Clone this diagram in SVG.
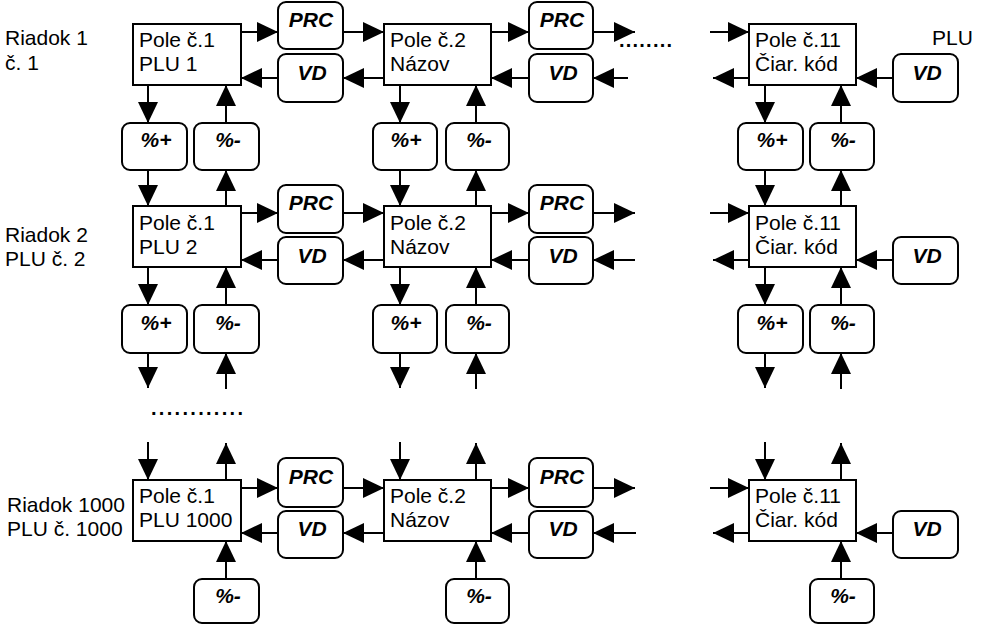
<svg xmlns="http://www.w3.org/2000/svg" width="981" height="625" viewBox="0 0 981 625">
<defs>
<style>
.box{fill:#fff;stroke:#000;stroke-width:2}
.key{fill:#fff;stroke:#000;stroke-width:2}
.t{font-family:"Liberation Sans",Arial,sans-serif;font-size:21px;fill:#000}
.k{font-family:"Liberation Sans",Arial,sans-serif;font-size:21px;font-weight:bold;font-style:italic;fill:#000;text-anchor:middle}
.dots{font-family:"Liberation Sans",Arial,sans-serif;font-size:20px;font-weight:bold;fill:#000}
.c line{stroke:#000;stroke-width:2;marker-end:url(#ah)}
</style>
<marker id="ah" markerWidth="21" markerHeight="20" refX="21" refY="10" orient="auto" markerUnits="userSpaceOnUse">
<path d="M0,0 L21,10 L0,20 z" fill="#000"/>
</marker>
</defs>
<rect width="981" height="625" fill="#fff"/>

<g id="labels">
<text class="t" x="5" y="45">Riadok 1</text>
<text class="t" x="5" y="70">č. 1</text>
<text class="t" x="5" y="242">Riadok 2</text>
<text class="t" x="5" y="266">PLU č. 2</text>
<text class="t" x="7" y="512">Riadok 1000</text>
<text class="t" x="7" y="536">PLU č. 1000</text>
<text class="t" x="932" y="45">PLU</text>
<text class="dots" x="619" y="47" textLength="53" lengthAdjust="spacing">........</text>
<text class="dots" x="151" y="415" textLength="92" lengthAdjust="spacing">............</text>
</g>

<g id="connectors" class="c">
<!-- row 1 horizontal -->
<line x1="241" y1="32" x2="278" y2="32"/>
<line x1="343" y1="32" x2="384" y2="32"/>
<line x1="491" y1="32" x2="529" y2="32"/>
<line x1="593" y1="32" x2="635" y2="32"/>
<line x1="710" y1="32" x2="749" y2="32"/>
<line x1="278" y1="78" x2="241" y2="78"/>
<line x1="384" y1="78" x2="343" y2="78"/>
<line x1="529" y1="78" x2="491" y2="78"/>
<line x1="628" y1="78" x2="593" y2="78"/>
<line x1="749" y1="78" x2="713" y2="78"/>
<line x1="893" y1="78" x2="856" y2="78"/>
<!-- row 2 horizontal -->
<line x1="241" y1="213" x2="278" y2="213"/>
<line x1="343" y1="213" x2="384" y2="213"/>
<line x1="491" y1="213" x2="529" y2="213"/>
<line x1="593" y1="213" x2="635" y2="213"/>
<line x1="710" y1="213" x2="749" y2="213"/>
<line x1="278" y1="260" x2="241" y2="260"/>
<line x1="384" y1="260" x2="343" y2="260"/>
<line x1="529" y1="260" x2="491" y2="260"/>
<line x1="635" y1="260" x2="593" y2="260"/>
<line x1="749" y1="260" x2="713" y2="260"/>
<line x1="893" y1="260" x2="856" y2="260"/>
<!-- row 3 horizontal -->
<line x1="241" y1="488" x2="278" y2="488"/>
<line x1="343" y1="488" x2="384" y2="488"/>
<line x1="491" y1="488" x2="529" y2="488"/>
<line x1="593" y1="488" x2="635" y2="488"/>
<line x1="710" y1="488" x2="749" y2="488"/>
<line x1="278" y1="533" x2="241" y2="533"/>
<line x1="384" y1="533" x2="343" y2="533"/>
<line x1="529" y1="533" x2="491" y2="533"/>
<line x1="636" y1="533" x2="593" y2="533"/>
<line x1="749" y1="533" x2="713" y2="533"/>
<line x1="893" y1="533" x2="856" y2="533"/>
<!-- verticals col 1 -->
<line x1="148" y1="85" x2="148" y2="123"/>
<line x1="226" y1="123" x2="226" y2="85"/>
<line x1="148" y1="170" x2="148" y2="206"/>
<line x1="226" y1="206" x2="226" y2="170"/>
<line x1="148" y1="267" x2="148" y2="305"/>
<line x1="226" y1="305" x2="226" y2="267"/>
<line x1="148" y1="353" x2="148" y2="388"/>
<line x1="226" y1="389" x2="226" y2="353"/>
<line x1="148" y1="442" x2="148" y2="480"/>
<line x1="226" y1="480" x2="226" y2="443"/>
<line x1="226" y1="579" x2="226" y2="541"/>
<!-- verticals col 2 -->
<line x1="400" y1="85" x2="400" y2="123"/>
<line x1="476" y1="123" x2="476" y2="85"/>
<line x1="400" y1="170" x2="400" y2="206"/>
<line x1="476" y1="206" x2="476" y2="170"/>
<line x1="400" y1="267" x2="400" y2="305"/>
<line x1="476" y1="305" x2="476" y2="267"/>
<line x1="400" y1="353" x2="400" y2="388"/>
<line x1="476" y1="389" x2="476" y2="353"/>
<line x1="400" y1="442" x2="400" y2="480"/>
<line x1="476" y1="480" x2="476" y2="443"/>
<line x1="476" y1="579" x2="476" y2="541"/>
<!-- verticals col 3 -->
<line x1="765" y1="85" x2="765" y2="123"/>
<line x1="841" y1="123" x2="841" y2="85"/>
<line x1="765" y1="170" x2="765" y2="206"/>
<line x1="841" y1="206" x2="841" y2="170"/>
<line x1="765" y1="267" x2="765" y2="305"/>
<line x1="841" y1="305" x2="841" y2="267"/>
<line x1="765" y1="353" x2="765" y2="388"/>
<line x1="841" y1="389" x2="841" y2="353"/>
<line x1="765" y1="442" x2="765" y2="480"/>
<line x1="841" y1="480" x2="841" y2="443"/>
<line x1="841" y1="579" x2="841" y2="541"/>
</g>

<!-- Row 1 -->
<g id="r1c1"><rect class="box" x="133" y="24" width="108" height="61"/><text class="t" x="139" y="47">Pole č.1</text><text class="t" x="139" y="71">PLU 1</text></g>
<g id="r1c2"><rect class="box" x="384" y="24" width="107" height="61"/><text class="t" x="390" y="47">Pole č.2</text><text class="t" x="390" y="71">Názov</text></g>
<g id="r1c3"><rect class="box" x="749" y="24" width="107" height="61"/><text class="t" x="755" y="47">Pole č.11</text><text class="t" x="755" y="71">Čiar. kód</text></g>
<g id="r1prc1"><rect class="key" x="278" y="2" width="65" height="47" rx="8"/><text class="k" x="311" y="27">PRC</text></g>
<g id="r1vd1"><rect class="key" x="278" y="54" width="65" height="48" rx="8"/><text class="k" x="312" y="80">VD</text></g>
<g id="r1prc2"><rect class="key" x="529" y="2" width="64" height="47" rx="8"/><text class="k" x="562" y="27">PRC</text></g>
<g id="r1vd2"><rect class="key" x="529" y="54" width="64" height="48" rx="8"/><text class="k" x="563" y="80">VD</text></g>
<g id="r1vd3"><rect class="key" x="893" y="54" width="65" height="48" rx="8"/><text class="k" x="927" y="80">VD</text></g>
<g id="r1p1"><rect class="key" x="122" y="123" width="65" height="47" rx="8"/><text class="k" x="156" y="147">%+</text></g>
<g id="r1m1"><rect class="key" x="194" y="123" width="65" height="47" rx="8"/><text class="k" x="228" y="147">%-</text></g>
<g id="r1p2"><rect class="key" x="373" y="123" width="64" height="47" rx="8"/><text class="k" x="406" y="147">%+</text></g>
<g id="r1m2"><rect class="key" x="446" y="123" width="63" height="47" rx="8"/><text class="k" x="479" y="147">%-</text></g>
<g id="r1p3"><rect class="key" x="738" y="123" width="65" height="47" rx="8"/><text class="k" x="772" y="147">%+</text></g>
<g id="r1m3"><rect class="key" x="810" y="123" width="64" height="47" rx="8"/><text class="k" x="843" y="147">%-</text></g>

<!-- Row 2 -->
<g id="r2c1"><rect class="box" x="133" y="206" width="108" height="61"/><text class="t" x="139" y="230">Pole č.1</text><text class="t" x="139" y="254">PLU 2</text></g>
<g id="r2c2"><rect class="box" x="384" y="206" width="107" height="61"/><text class="t" x="390" y="230">Pole č.2</text><text class="t" x="390" y="254">Názov</text></g>
<g id="r2c3"><rect class="box" x="749" y="206" width="107" height="61"/><text class="t" x="755" y="230">Pole č.11</text><text class="t" x="755" y="254">Čiar. kód</text></g>
<g id="r2prc1"><rect class="key" x="278" y="185" width="65" height="48" rx="8"/><text class="k" x="311" y="210">PRC</text></g>
<g id="r2vd1"><rect class="key" x="278" y="237" width="65" height="47" rx="8"/><text class="k" x="312" y="263">VD</text></g>
<g id="r2prc2"><rect class="key" x="529" y="185" width="64" height="48" rx="8"/><text class="k" x="562" y="210">PRC</text></g>
<g id="r2vd2"><rect class="key" x="529" y="237" width="64" height="47" rx="8"/><text class="k" x="563" y="263">VD</text></g>
<g id="r2vd3"><rect class="key" x="893" y="237" width="65" height="47" rx="8"/><text class="k" x="927" y="263">VD</text></g>
<g id="r2p1"><rect class="key" x="122" y="305" width="65" height="48" rx="8"/><text class="k" x="156" y="330">%+</text></g>
<g id="r2m1"><rect class="key" x="194" y="305" width="65" height="48" rx="8"/><text class="k" x="228" y="330">%-</text></g>
<g id="r2p2"><rect class="key" x="373" y="305" width="64" height="48" rx="8"/><text class="k" x="406" y="330">%+</text></g>
<g id="r2m2"><rect class="key" x="446" y="305" width="63" height="48" rx="8"/><text class="k" x="479" y="330">%-</text></g>
<g id="r2p3"><rect class="key" x="738" y="305" width="65" height="48" rx="8"/><text class="k" x="772" y="330">%+</text></g>
<g id="r2m3"><rect class="key" x="810" y="305" width="64" height="48" rx="8"/><text class="k" x="843" y="330">%-</text></g>

<!-- Row 3 -->
<g id="r3c1"><rect class="box" x="133" y="480" width="108" height="61"/><text class="t" x="139" y="503">Pole č.1</text><text class="t" x="139" y="527">PLU 1000</text></g>
<g id="r3c2"><rect class="box" x="384" y="480" width="107" height="61"/><text class="t" x="390" y="503">Pole č.2</text><text class="t" x="390" y="527">Názov</text></g>
<g id="r3c3"><rect class="box" x="749" y="480" width="107" height="61"/><text class="t" x="755" y="503">Pole č.11</text><text class="t" x="755" y="527">Čiar. kód</text></g>
<g id="r3prc1"><rect class="key" x="278" y="458" width="65" height="49" rx="8"/><text class="k" x="311" y="484">PRC</text></g>
<g id="r3vd1"><rect class="key" x="278" y="511" width="65" height="47" rx="8"/><text class="k" x="312" y="536">VD</text></g>
<g id="r3prc2"><rect class="key" x="529" y="458" width="64" height="49" rx="8"/><text class="k" x="562" y="484">PRC</text></g>
<g id="r3vd2"><rect class="key" x="529" y="511" width="64" height="47" rx="8"/><text class="k" x="563" y="536">VD</text></g>
<g id="r3vd3"><rect class="key" x="893" y="511" width="65" height="47" rx="8"/><text class="k" x="927" y="536">VD</text></g>
<g id="r3m1"><rect class="key" x="194" y="579" width="65" height="44" rx="8"/><text class="k" x="228" y="603">%-</text></g>
<g id="r3m2"><rect class="key" x="446" y="579" width="63" height="44" rx="8"/><text class="k" x="479" y="603">%-</text></g>
<g id="r3m3"><rect class="key" x="810" y="579" width="64" height="44" rx="8"/><text class="k" x="843" y="603">%-</text></g>
</svg>
